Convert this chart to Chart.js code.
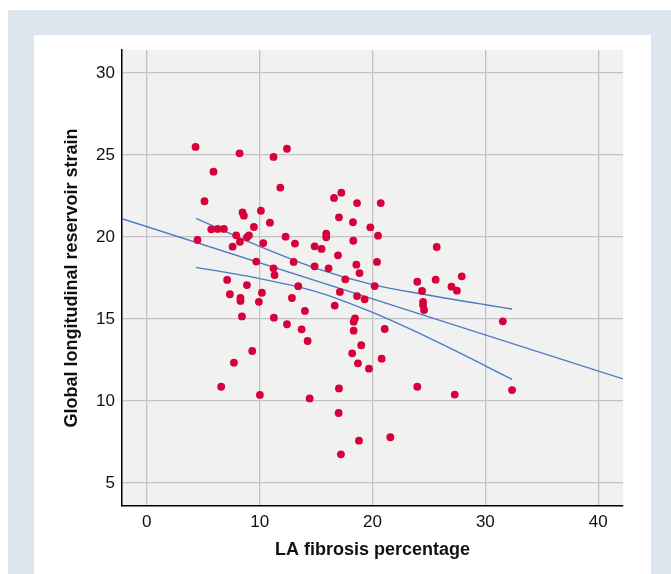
<!DOCTYPE html>
<html>
<head>
<meta charset="utf-8">
<script src="https://cdn.jsdelivr.net/npm/chart.js@4.4.1/dist/chart.umd.min.js"></script>
<style>
  body { margin: 0; background: #fff; }
  #blue { position: absolute; left: 8px; top: 10px; width: 663px; height: 564px; background: #dde6ef; }
  #panel { position: absolute; left: 34px; top: 35px; width: 617px; height: 539px; background: #fff; }
  #chart { position: absolute; left: 0; top: 0; }
</style>
</head>
<body>
<div id="blue"></div>
<div id="panel"></div>
<canvas id="chart" width="671" height="574"></canvas>
<script>
// ================= DATA =================
const fibrosis = [
  4.32, 8.22, 11.23, 12.42, 5.91, 11.83, 5.11, 16.59, 17.24, 18.63,
  8.48, 8.60, 10.11, 17.03, 18.27, 10.91, 9.49, 5.71, 6.27, 6.83,
  4.49, 7.92, 8.25, 8.87, 9.05, 7.60, 10.32, 12.30, 13.13, 15.90,
  15.90, 18.30, 14.87, 15.49, 16.94, 9.70, 13.01, 11.23, 11.32, 14.87,
  16.11, 18.57, 18.85, 7.12, 8.87, 7.36, 8.30, 8.30, 10.20, 9.93,
  12.86, 13.42, 16.65, 17.11, 17.59, 18.63,
  20.73, 19.81, 20.49, 25.69, 20.40, 23.97, 25.60, 27.91, 27.00, 27.48,
  24.39, 24.48, 24.48, 24.57, 20.19, 19.30, 18.33, 18.45, 18.33, 19.00,
  21.08, 18.20, 18.71, 20.81, 19.69, 31.55, 23.97, 27.29, 32.37, 18.80,
  21.58,
  14.01, 8.43, 11.26, 12.42, 13.72, 14.25, 9.34, 7.72, 6.59, 10.02,
  14.43, 17.03, 17.00, 17.20
];
const strain = [
  25.49, 25.10, 24.88, 25.38, 23.98, 23.01, 22.18, 22.38, 22.70, 22.07,
  21.50, 21.30, 21.60, 21.20, 20.90, 20.87, 20.61, 20.47, 20.49, 20.49,
  19.82, 20.10, 19.71, 19.98, 20.10, 19.41, 19.63, 20.02, 19.60, 20.20,
  19.98, 19.77, 19.43, 19.27, 18.88, 18.50, 18.48, 18.09, 17.68, 18.21,
  18.09, 18.31, 17.80, 17.38, 17.07, 16.51, 16.28, 16.10, 16.60, 16.05,
  16.28, 17.00, 15.82, 16.65, 17.42, 16.40,
  22.07, 20.59, 20.08, 19.39, 18.48, 17.27, 17.40, 17.60, 16.97, 16.73,
  16.71, 16.05, 15.85, 15.55, 17.01, 16.20, 14.84, 15.04, 14.29, 13.40,
  14.39, 12.91, 12.30, 12.58, 11.97, 14.86, 10.87, 10.39, 10.67, 7.58,
  7.79,
  15.49, 15.16, 15.08, 14.68, 14.37, 13.66, 13.05, 12.34, 10.87, 10.37,
  10.16, 10.77, 9.27, 6.75
];

// fit line across the whole axis
const fitX = [-2.2, 42.2];
const fitY = [21.11, 11.35];

// confidence band
const upperX = [4.37, 9.58, 15, 20, 25, 30, 32.37];
const upperY = [21.14, 19.55, 18.09, 17.1, 16.45, 15.87, 15.61];
const lowerX = [4.37, 9.58, 15, 20, 25, 30, 32.37];
const lowerY = [18.15, 17.52, 16.67, 15.4, 13.85, 12.15, 11.32];

const xTicks = [0, 10, 20, 30, 40];
const yTicks = [5, 10, 15, 20, 25, 30];

// ================= HELPERS =================
const toPoints = (xs, ys) => xs.map((x, i) => ({ x: x, y: ys[i] }));

const plotBg = {
  id: "plotBg",
  beforeDraw(chart) {
    const { ctx, chartArea: a } = chart;
    ctx.save();
    ctx.fillStyle = "#f1f1f1";
    ctx.fillRect(a.left, a.top, a.right - a.left, a.bottom - a.top);
    ctx.restore();
  }
};

const lineStyle = {
  type: "line",
  borderColor: "#4a7bc2",
  borderWidth: 1.4,
  pointRadius: 0,
  fill: false,
  cubicInterpolationMode: "monotone",
  order: 2
};

const tickFont = { family: "'Liberation Sans', Arial, sans-serif", size: 17 };
const titleFont = { family: "'Liberation Sans', Arial, sans-serif", size: 18, weight: "bold" };

// ================= CHART =================
new Chart(document.getElementById("chart"), {
  type: "scatter",
  data: {
    datasets: [
      {
        data: toPoints(fibrosis, strain),
        backgroundColor: "#d6003a",
        borderWidth: 0,
        pointRadius: 3.9,
        order: 1
      },
      { ...lineStyle, data: toPoints(fitX, fitY) },
      { ...lineStyle, data: toPoints(upperX, upperY) },
      { ...lineStyle, data: toPoints(lowerX, lowerY) }
    ]
  },
  options: {
    responsive: false,
    animation: false,
    events: [],
    layout: { padding: { left: 61, top: 50, right: 48, bottom: 13 } },
    plugins: { legend: { display: false }, tooltip: { enabled: false } },
    scales: {
      x: {
        type: "linear",
        min: -2.2,
        max: 42.2,
        afterFit: s => { s.height = 55; },
        afterBuildTicks: s => { s.ticks = xTicks.map(v => ({ value: v })); },
        ticks: { font: tickFont, color: "#111", padding: 6 },
        grid: { color: "#c2c2c2", lineWidth: 1.3, drawTicks: false },
        border: { color: "#000", width: 1.5 },
        title: { display: true, text: "LA fibrosis percentage", font: titleFont, color: "#111", padding: 0 }
      },
      y: {
        type: "linear",
        min: 3.6,
        max: 31.4,
        afterFit: s => { s.width = 61; },
        afterBuildTicks: s => { s.ticks = yTicks.map(v => ({ value: v })); },
        ticks: { font: tickFont, color: "#111", padding: 7 },
        grid: { color: "#c2c2c2", lineWidth: 1.3, drawTicks: false },
        border: { color: "#000", width: 1.5 },
        title: { display: true, text: "Global longitudinal reservoir strain", font: titleFont, color: "#111", padding: 0 }
      }
    }
  },
  plugins: [plotBg]
});
</script>
</body>
</html>
